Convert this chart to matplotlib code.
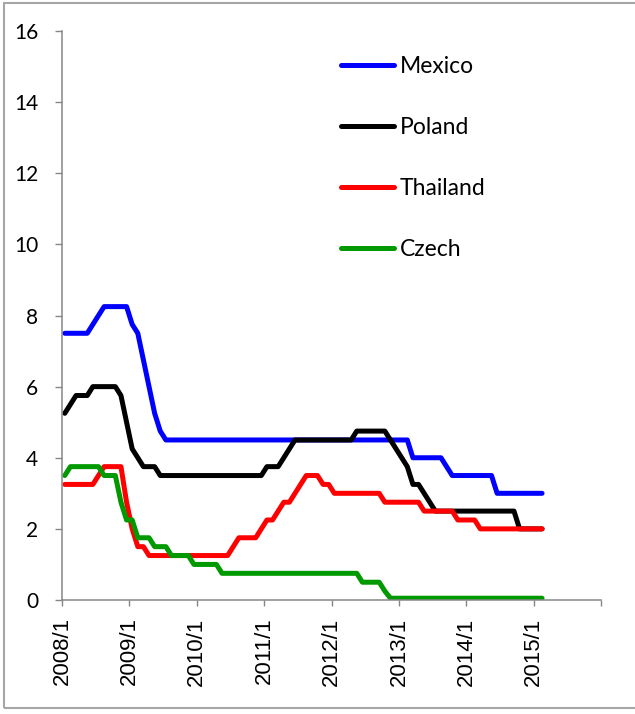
import numpy as np
import matplotlib
matplotlib.use('Agg')
import matplotlib.pyplot as plt
from matplotlib.patches import Rectangle

# policy rates, monthly from 2008/1 to 2015/2
mexico = [7.5, 7.5, 7.5, 7.5, 7.5, 7.75, 8.0, 8.25, 8.25, 8.25, 8.25, 8.25,
          7.75, 7.5, 6.75, 6.0, 5.25, 4.75, 4.5, 4.5, 4.5, 4.5, 4.5, 4.5,
          4.5, 4.5, 4.5, 4.5, 4.5, 4.5, 4.5, 4.5, 4.5, 4.5, 4.5, 4.5,
          4.5, 4.5, 4.5, 4.5, 4.5, 4.5, 4.5, 4.5, 4.5, 4.5, 4.5, 4.5,
          4.5, 4.5, 4.5, 4.5, 4.5, 4.5, 4.5, 4.5, 4.5, 4.5, 4.5, 4.5,
          4.5, 4.5, 4.0, 4.0, 4.0, 4.0, 4.0, 4.0, 3.75, 3.5, 3.5, 3.5,
          3.5, 3.5, 3.5, 3.5, 3.5, 3.0, 3.0, 3.0, 3.0, 3.0, 3.0, 3.0,
          3.0, 3.0]
poland = [5.25, 5.5, 5.75, 5.75, 5.75, 6.0, 6.0, 6.0, 6.0, 6.0, 5.75, 5.0,
          4.25, 4.0, 3.75, 3.75, 3.75, 3.5, 3.5, 3.5, 3.5, 3.5, 3.5, 3.5,
          3.5, 3.5, 3.5, 3.5, 3.5, 3.5, 3.5, 3.5, 3.5, 3.5, 3.5, 3.5,
          3.75, 3.75, 3.75, 4.0, 4.25, 4.5, 4.5, 4.5, 4.5, 4.5, 4.5, 4.5,
          4.5, 4.5, 4.5, 4.5, 4.75, 4.75, 4.75, 4.75, 4.75, 4.75, 4.5, 4.25,
          4.0, 3.75, 3.25, 3.25, 3.0, 2.75, 2.5, 2.5, 2.5, 2.5, 2.5, 2.5,
          2.5, 2.5, 2.5, 2.5, 2.5, 2.5, 2.5, 2.5, 2.5, 2.0, 2.0, 2.0,
          2.0, 2.0]
thailand = [3.25, 3.25, 3.25, 3.25, 3.25, 3.25, 3.5, 3.75, 3.75, 3.75, 3.75, 2.75,
            2.0, 1.5, 1.5, 1.25, 1.25, 1.25, 1.25, 1.25, 1.25, 1.25, 1.25, 1.25,
            1.25, 1.25, 1.25, 1.25, 1.25, 1.25, 1.5, 1.75, 1.75, 1.75, 1.75, 2.0,
            2.25, 2.25, 2.5, 2.75, 2.75, 3.0, 3.25, 3.5, 3.5, 3.5, 3.25, 3.25,
            3.0, 3.0, 3.0, 3.0, 3.0, 3.0, 3.0, 3.0, 3.0, 2.75, 2.75, 2.75,
            2.75, 2.75, 2.75, 2.75, 2.5, 2.5, 2.5, 2.5, 2.5, 2.5, 2.25, 2.25,
            2.25, 2.25, 2.0, 2.0, 2.0, 2.0, 2.0, 2.0, 2.0, 2.0, 2.0, 2.0,
            2.0, 2.0]
czech = [3.5, 3.75, 3.75, 3.75, 3.75, 3.75, 3.75, 3.5, 3.5, 3.5, 2.75, 2.25,
         2.25, 1.75, 1.75, 1.75, 1.5, 1.5, 1.5, 1.25, 1.25, 1.25, 1.25, 1.0,
         1.0, 1.0, 1.0, 1.0, 0.75, 0.75, 0.75, 0.75, 0.75, 0.75, 0.75, 0.75,
         0.75, 0.75, 0.75, 0.75, 0.75, 0.75, 0.75, 0.75, 0.75, 0.75, 0.75, 0.75,
         0.75, 0.75, 0.75, 0.75, 0.75, 0.5, 0.5, 0.5, 0.5, 0.25, 0.05, 0.05,
         0.05, 0.05, 0.05, 0.05, 0.05, 0.05, 0.05, 0.05, 0.05, 0.05, 0.05, 0.05,
         0.05, 0.05, 0.05, 0.05, 0.05, 0.05, 0.05, 0.05, 0.05, 0.05, 0.05, 0.05,
         0.05, 0.05]
x_labels = ['2008/1', '2009/1', '2010/1', '2011/1', '2012/1', '2013/1', '2014/1', '2015/1']

W, H = 635, 714
fig = plt.figure(figsize=(W / 100, H / 100), dpi=100)
ax = fig.add_axes([62 / W, 1 - 600 / H, (601 - 62) / W, (600 - 31) / H])

x = np.arange(len(mexico)) + 0.5
series = [('Mexico', mexico, '#0000ff'), ('Poland', poland, '#000000'),
          ('Thailand', thailand, '#ff0000'), ('Czech', czech, '#009900')]
for name, vals, col in series:
    ax.plot(x, vals, color=col, lw=3.6, label=name,
            solid_capstyle='round', solid_joinstyle='round')

ax.set_xlim(0, 96)
ax.set_ylim(0, 16)
ax.set_xticks(np.arange(0, 97, 12))
ax.set_xticklabels(x_labels + [''], rotation=90, fontsize=16, family='Liberation Sans')
ax.set_yticks(range(0, 17, 2))
ax.set_yticklabels([str(v) for v in range(0, 17, 2)], fontsize=15, family='Lato')

for s in ['top', 'right']:
    ax.spines[s].set_visible(False)
for s in ['left', 'bottom']:
    ax.spines[s].set_color('#868686')
    ax.spines[s].set_linewidth(1.1)
ax.tick_params(axis='y', direction='out', length=5, width=1, color='#868686', pad=12)
ax.tick_params(axis='x', direction='out', length=4.5, width=1, color='#868686', pad=8)

ax.legend(loc='upper left', bbox_to_anchor=(341 / W, 1 - 56 / H), bbox_transform=fig.transFigure,
          frameon=False, prop={'family': 'Lato', 'size': 16.5}, handlelength=2.3,
          handletextpad=0.25, labelspacing=1.74, borderpad=0, borderaxespad=0)

# chart border
fig.add_artist(Rectangle((3.5 / W, 1 - 708 / H), 2, (708 - 2.5) / H, transform=fig.transFigure,
                         fill=False, ec='#a6a6a6', lw=1.5))

plt.savefig('out.png', dpi=100)
